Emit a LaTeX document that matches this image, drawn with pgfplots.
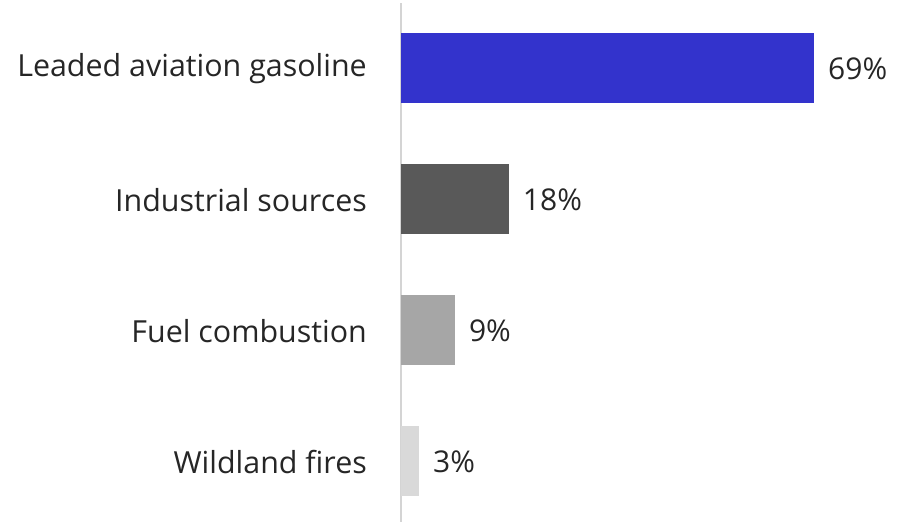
\documentclass[border=0pt]{standalone}
\usepackage{pgfplots}
\pgfplotsset{compat=1.18}
\usepackage{fontspec}
\setmainfont{Open Sans}
\definecolor{cblue}{HTML}{3333CC}
\definecolor{cdark}{HTML}{595959}
\definecolor{cmid}{HTML}{A6A6A6}
\definecolor{clight}{HTML}{D9D9D9}
\definecolor{caxis}{HTML}{D4D4D4}
\definecolor{ctext}{HTML}{262626}
\begin{document}
\begin{tikzpicture}
\useasboundingbox (0,0) rectangle (900pt,525pt);
\begin{axis}[
  at={(401pt,3pt)}, anchor=south west,
  scale only axis,
  width=478.9pt, height=519pt,
  xmin=0, xmax=80,
  ymin=-0.4656, ymax=3.496,
  axis x line=none,
  axis y line*=left,
  axis line style={draw=caxis, line width=2pt},
  ytick={0,1,2,3},
  yticklabels={Wildland fires,Fuel combustion,Industrial sources,Leaded aviation gasoline},
  major tick length=0pt,
  ytick style={draw=none},
  yticklabel style={inner sep=0pt, xshift=-34pt, yshift=-1pt, font=\fontsize{30.4}{35}\selectfont, text=ctext},
  xbar, bar width=70pt, bar shift=0pt,
  /pgf/number format/assume math mode=true,
  nodes near coords={\pgfmathprintnumber[assume math mode=true]{\pgfplotspointmeta}\%},
  point meta=x,
  nodes near coords style={anchor=west, inner sep=0pt, xshift=14pt, yshift=-1pt, font=\fontsize{30}{35}\selectfont, text=ctext},
  clip=false,
]
\addplot[fill=cblue, draw=none] coordinates {(69,3)};
\addplot[fill=cdark, draw=none] coordinates {(18,2)};
\addplot[fill=cmid, draw=none] coordinates {(9,1)};
\addplot[fill=clight, draw=none] coordinates {(3,0)};
\end{axis}
\end{tikzpicture}
\end{document}
